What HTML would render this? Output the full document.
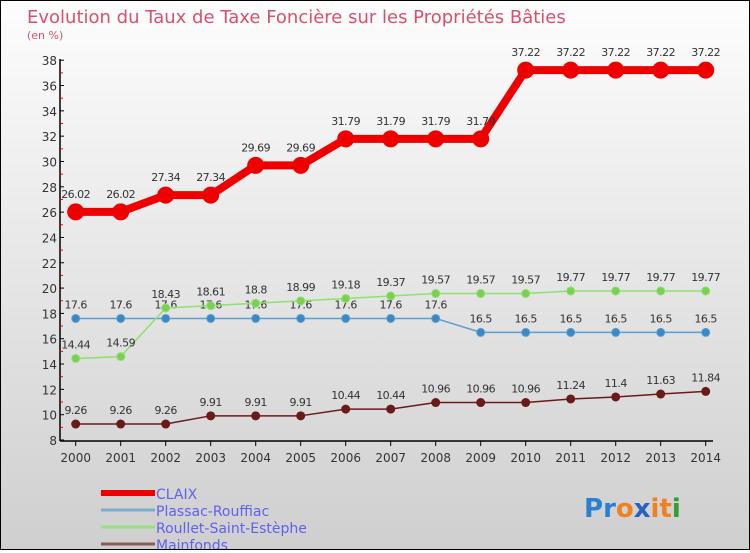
<!DOCTYPE html>
<html><head><meta charset="utf-8"><style>
body{margin:0;width:750px;height:550px;overflow:hidden}
#wrap{position:relative;width:748px;height:548px;border:1px solid #000;background:linear-gradient(#fdfdfd,#cfcfcf);font-family:"DejaVu Sans","Liberation Sans",sans-serif}
</style></head><body>
<div id="wrap">
<svg id="c" width="748" height="548"></svg>
</div>
<script>
const years=[2000,2001,2002,2003,2004,2005,2006,2007,2008,2009,2010,2011,2012,2013,2014];
const claix=[26.02,26.02,27.34,27.34,29.69,29.69,31.79,31.79,31.79,31.79,37.22,37.22,37.22,37.22,37.22];
const plassac=[17.6,17.6,17.6,17.6,17.6,17.6,17.6,17.6,17.6,16.5,16.5,16.5,16.5,16.5,16.5];
const roullet=[14.44,14.59,18.43,18.61,18.8,18.99,19.18,19.37,19.57,19.57,19.57,19.77,19.77,19.77,19.77];
const mainfonds=[9.26,9.26,9.26,9.91,9.91,9.91,10.44,10.44,10.96,10.96,10.96,11.24,11.4,11.63,11.84];
const yTicks=[8,10,12,14,16,18,20,22,24,26,28,30,32,34,36,38];
const NS="http://www.w3.org/2000/svg";
const svg=document.getElementById('c');
const X=i=>74.7+i*45, Y=v=>439-(v-8)*12.66;
function mk(t,a,p){const e=document.createElementNS(NS,t);for(const k in a)e.setAttribute(k,a[k]);(p||svg).appendChild(e);return e;}
let t=mk('text',{x:26,y:22,'font-size':18,fill:'#d85070'});t.textContent='Evolution du Taux de Taxe Foncière sur les Propriétés Bâties';


t=mk('text',{x:26,y:38,'font-size':11,fill:'#d85070'});t.textContent='(en %)';


mk('line',{x1:59,y1:58,x2:59,y2:440,stroke:'#000','stroke-width':1.5});
mk('line',{x1:59,y1:440,x2:712,y2:440,stroke:'#000','stroke-width':1.5});
yTicks.forEach(v=>{const y=Y(v);mk('line',{x1:59,y1:y,x2:63,y2:y,stroke:'#000'});
 if(v<38) mk('line',{x1:59,y1:Y(v+1),x2:62,y2:Y(v+1),stroke:'#e00'});
 const tx=mk('text',{x:56,y:y+5,'font-size':12,fill:'#333','text-anchor':'end'});tx.textContent=v;
 
 });
years.forEach((yr,i)=>{mk('line',{x1:X(i),y1:440,x2:X(i),y2:445,stroke:'#000'});
 const tx=mk('text',{x:X(i),y:461,'font-size':12,fill:'#333','text-anchor':'middle'});tx.textContent=yr;
 
 });
function series(data,color,w,r,name,fill){
 const g=mk('g',{});
 
 
 mk('polyline',{points:data.map((v,i)=>X(i)+','+Y(v)).join(' '),fill:'none',stroke:color,'stroke-width':w,'stroke-linejoin':'round'},g);
 data.forEach((v,i)=>{const c=mk('circle',{cx:X(i),cy:Y(v),r:r,fill:fill,stroke:color,'stroke-width':1},g);
  
  
  const tx=mk('text',{x:X(i),y:Y(v)-(r+6),'font-size':11,fill:'#333','text-anchor':'middle','letter-spacing':'-0.5'},g);tx.textContent=v;
  
  });
}
series(mainfonds,'#6b1a1a',1.5,4,'mainfonds-series','#6b1a1a');
series(plassac,'#5a9fd0',1.5,4,'plassac-series','#3a88c8');
series(roullet,'#8fe070',1.5,4,'roullet-series','#7ad050');
series(claix,'#ee0000',8,8,'claix-series','#ee0000');
const leg=[['CLAIX','#ee0000',6],['Plassac-Rouffiac','#7aaed0',3],['Roullet-Saint-Estèphe','#9ae080',3],['Mainfonds','#8a5a5a',3]];
leg.forEach((l,i)=>{const y=492+i*17;
 const g=mk('g',{});
 
 
 mk('line',{x1:100,y1:y,x2:154,y2:y,stroke:l[1],'stroke-width':l[2]},g);
 const tx=mk('text',{x:155,y:y+6,'font-size':14,fill:'#6060f0'},g);tx.textContent=l[0];});
const pro=[['P','#2a80d0'],['r','#2a80d0'],['o','#f08020'],['x','#2a60c0'],['i','#f08020'],['t','#f08020'],['i','#30a030']];
const pt=mk('text',{x:583,y:516,'font-size':26,'font-weight':'bold'});


pro.forEach(p=>{const s=mk('tspan',{fill:p[1]},pt);s.textContent=p[0];});
</script>
</body></html>
